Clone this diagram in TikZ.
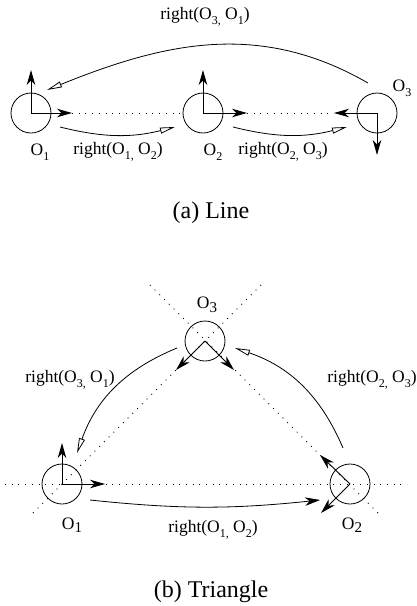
\documentclass[tikz,border=0pt]{standalone}
\usepackage{fontspec}
\setmainfont{Liberation Serif}
\usetikzlibrary{arrows.meta}
\newcommand\sbs[1]{\raisebox{-0.3em}{\fontsize{12}{12}\selectfont #1}}
\newcommand\sbb[1]{\raisebox{-0.2em}{\fontsize{15}{15}\selectfont #1}}
\begin{document}
\begin{tikzpicture}[x=1pt,y=-1pt,
  obj/.style={circle,draw,minimum size=40pt,inner sep=0pt,line width=0.8pt},
  vec/.style={line width=0.9pt,-{Stealth[length=15pt,width=8.5pt,inset=4.5pt]}},
  rel/.style={line width=0.8pt,-{Triangle[open,length=15pt,width=6pt]}},
  relf/.style={line width=0.8pt,-{Stealth[length=15pt,width=8.5pt,inset=4.5pt]}},
  dots/.style={line width=0.9pt,dash pattern=on 0.9pt off 5.8pt},
  lab/.style={font=\fontsize{17.5}{20}\selectfont,inner sep=0pt},
  captext/.style={font=\fontsize{24}{28}\selectfont,inner sep=0pt}]
\useasboundingbox (0,0) rectangle (417,606);
% ---------- (a) Line ----------
\node[obj] (a1) at (31,113) {};
\node[obj] (a2) at (203,113) {};
\node[obj] (a3) at (377,113) {};
\coordinate (a1u) at (31,70);  \coordinate (a1r) at (72,113);
\coordinate (a2u) at (203,70); \coordinate (a2r) at (247,113);
\coordinate (a3l) at (334,113); \coordinate (a3d) at (377,155);
\draw[dots] (a1r) -- (a2.west);
\draw[dots] (a2r) -- (a3l);
\draw[vec] (a1.center) -- (a1u);
\draw[vec] (a1.center) -- (a1r);
\draw[vec] (a2.center) -- (a2u);
\draw[vec] (a2.center) -- (a2r);
\draw[vec] (a3.center) -- (a3l);
\draw[vec] (a3.center) -- (a3d);
\coordinate (s12) at (60,127);  \coordinate (e12) at (175,127);
\coordinate (s23) at (233,127); \coordinate (e23) at (347,127);
\coordinate (s31) at (368,83);  \coordinate (e31) at (47,90);
\draw[rel] (s12) to[bend right=14] (e12);
\draw[rel] (s23) to[bend right=14] (e23);
\draw[rel] (s31) to[out=150,in=22] (e31);
\node[lab] (ta1) at (40,152) {O\sbs{1}};
\node[lab] (ta2) at (213,152) {O\sbs{2}};
\node[lab] (ta3) at (402,88) {O\sbs{3}};
\node[lab] (ra12) at (118,152) {right(O\sbs{1,} O\sbs{2})};
\node[lab] (ra23) at (283,152) {right(O\sbs{2,} O\sbs{3})};
\node[lab] (ra31) at (205,17) {right(O\sbs{3,} O\sbs{1})};
\node[captext] (capa) at (211,213) {(a) Line};
% ---------- (b) Triangle ----------
\node[obj] (b1) at (62,484) {};
\node[obj] (b2) at (350,484) {};
\node[obj] (b3) at (205,341) {};
\coordinate (h1) at (5,484);   \coordinate (h2) at (407,484);
\coordinate (d1) at (33,513);  \coordinate (d2) at (263,283);
\coordinate (d3) at (378,513); \coordinate (d4) at (148,283);
\draw[dots] (h1) -- (h2);
\draw[dots] (d1) -- (d2);
\draw[dots] (d3) -- (d4);
\coordinate (b1u) at (62,443);  \coordinate (b1r) at (105,484);
\coordinate (b2a) at (320,455); \coordinate (b2b) at (321,513);
\coordinate (b3a) at (176,370); \coordinate (b3b) at (234,370);
\draw[vec] (b1.center) -- (b1u);
\draw[vec] (b1.center) -- (b1r);
\draw[vec] (b2.center) -- (b2a);
\draw[vec] (b2.center) -- (b2b);
\draw[vec] (b3.center) -- (b3a);
\draw[vec] (b3.center) -- (b3b);
\coordinate (p31) at (177,348); \coordinate (q31) at (77,453);
\coordinate (p23) at (343,448); \coordinate (q23) at (235,348);
\coordinate (p12) at (90,500);  \coordinate (q12) at (320,500);
\draw[rel] (p31) to[bend right=24] (q31);
\draw[rel] (p23) to[bend right=24] (q23);
\draw[relf] (p12) to[bend right=6] (q12);
\node[lab] (tb1) at (72,525) {O\sbb{1}};
\node[lab] (tb2) at (352,525) {O\sbb{2}};
\node[lab] (tb3) at (207,305) {O\sbb{3}};
\node[lab] (rb12) at (213,530) {right(O\sbs{1,} O\sbs{2})};
\node[lab] (rb31) at (70,380) {right(O\sbs{3,} O\sbs{1})};
\node[lab] (rb23) at (372,380) {right(O\sbs{2,} O\sbs{3})};
\node[captext] (capb) at (211,592) {(b) Triangle};
\end{tikzpicture}
\end{document}
